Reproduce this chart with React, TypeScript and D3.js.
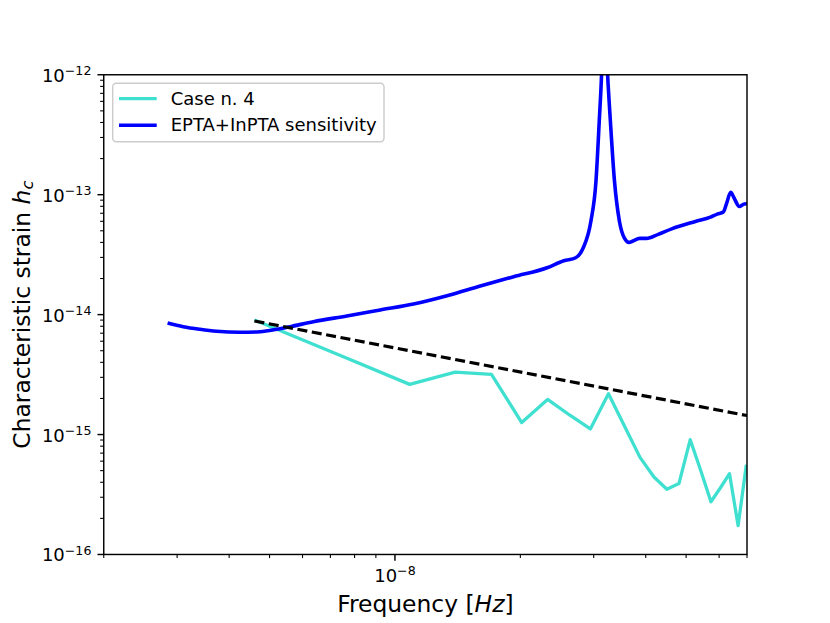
import React from "react";
import * as d3 from "d3";

// ---- data ----
const sensFreq = [
  2.846e-9, 3.103e-9, 3.404e-9, 3.733e-9, 4.246e-9, 4.746e-9, 5.203e-9, 5.601e-9,
  6.373e-9, 7.667e-9, 9.219e-9, 1.108e-8, 1.334e-8, 1.603e-8, 1.928e-8, 2.319e-8,
  2.543e-8, 2.716e-8, 2.83e-8, 2.953e-8, 3.038e-8, 3.094e-8, 3.133e-8, 3.177e-8,
  3.24e-8, 3.289e-8, 3.365e-8, 3.459e-8, 3.558e-8, 3.646e-8, 3.727e-8, 3.868e-8,
  4.016e-8, 4.285e-8, 4.617e-8, 5.263e-8, 5.72e-8, 5.939e-8, 6.14e-8, 6.257e-8,
  6.397e-8, 6.518e-8, 6.707e-8, 6.896e-8, 7.07e-8,
];
const sensStrain = [
  8.51e-15, 7.93e-15, 7.54e-15, 7.26e-15, 7.12e-15, 7.2e-15, 7.54e-15, 7.93e-15,
  8.73e-15, 9.74e-15, 1.093e-14, 1.226e-14, 1.438e-14, 1.732e-14, 2.071e-14, 2.461e-14,
  2.816e-14, 2.98e-14, 3.59e-14, 5.98e-14, 1.3e-13, 4.155e-13, 9.95e-13, 5e-12,
  9.95e-13, 4.155e-13, 1.3e-13, 5.98e-14, 4.32e-14, 4.0e-14, 4.11e-14, 4.32e-14,
  4.32e-14, 4.67e-14, 5.19e-14, 5.98e-14, 6.5e-14, 6.89e-14, 7.16e-14, 8.52e-14,
  1.048e-13, 9.38e-14, 7.98e-14, 8.36e-14, 8.41e-14,
];

const caseFreq = [
  4.6e-9, 7.75e-9, 1.085e-8, 1.395e-8, 1.705e-8, 2.015e-8, 2.325e-8, 2.635e-8,
  2.945e-8, 3.255e-8, 3.565e-8, 3.875e-8, 4.185e-8, 4.495e-8, 4.805e-8, 5.115e-8,
  5.425e-8, 5.735e-8, 6.045e-8, 6.355e-8, 6.665e-8, 6.975e-8,
];
const caseStrain = [
  9.02e-15, 4.27e-15, 2.62e-15, 3.32e-15, 3.18e-15, 1.258e-15, 1.963e-15, 1.442e-15,
  1.114e-15, 2.19e-15, 1.158e-15, 6.45e-16, 4.43e-16, 3.5e-16, 3.9e-16, 9.06e-16,
  4.97e-16, 2.75e-16, 3.6e-16, 4.72e-16, 1.74e-16, 5.6e-16,
];

const fitFreq = [4.6e-9, 7.0e-8];
const fitStrain = [8.85e-15, 1.44e-15];

const xDomain = [2e-9, 7e-8];
const yDomain = [1e-16, 1e-12];
const xMajorTicks = [1e-8];
const yMajorTicks = [1e-16, 1e-15, 1e-14, 1e-13, 1e-12];
const xTickLabels = ["\u22128"];
const yTickLabels = ["\u221216", "\u221215", "\u221214", "\u221213", "\u221212"];

const seriesNames = ["Case n. 4", "EPTA+InPTA sensitivity"];
const seriesColors = ["#40e0d0", "#0000ff"];

const W = 830;
const H = 623;
const M = { left: 103.75, right: 747, top: 74.76, bottom: 554.47 };
const FONT = "'DejaVu Sans', sans-serif";

function minorTicks(lo: number, hi: number) {
  const out: number[] = [];
  for (let e = Math.floor(Math.log10(lo)); e <= Math.ceil(Math.log10(hi)); e++) {
    for (let k = 2; k <= 9; k++) {
      const v = k * Math.pow(10, e);
      if (v >= lo * 0.9999 && v <= hi * 1.0001) out.push(v);
    }
  }
  return out;
}

export default function App() {
  const x = d3.scaleLog().domain(xDomain).range([M.left, M.right]);
  const y = d3.scaleLog().domain(yDomain).range([M.bottom, M.top]);

  const sensLine = d3
    .line<number>()
    .x((_, i) => x(sensFreq[i]))
    .y((d) => y(d))
    .curve(d3.curveMonotoneX)(sensStrain) as string;
  const caseLine = d3
    .line<number>()
    .x((_, i) => x(caseFreq[i]))
    .y((d) => y(d))(caseStrain) as string;
  const fitLine = d3
    .line<number>()
    .x((_, i) => x(fitFreq[i]))
    .y((d) => y(d))(fitStrain) as string;

  const xMinor = minorTicks(xDomain[0], xDomain[1]);
  const yMinor = minorTicks(yDomain[0], yDomain[1]);

  const majLen = 6.3;
  const minLen = 3.6;

  const legX = 112.7;
  const legY = 83.3;
  const legW = 271.3;
  const legH = 58.4;

  return (
    <svg
      width={W}
      height={H}
      style={{ position: "absolute", left: 0, top: 0, display: "block", background: "#fff" }}
      fontFamily={FONT}
    >
      <defs>
        <clipPath id="plotclip">
          <rect x={M.left} y={M.top} width={M.right - M.left} height={M.bottom - M.top} />
        </clipPath>
      </defs>
      <rect x={0} y={0} width={W} height={H} fill="#fff" />

      <g clipPath="url(#plotclip)" fill="none" strokeLinejoin="round" strokeLinecap="butt">
        <path d={caseLine} stroke={seriesColors[0]} strokeWidth={3.3} />
        <path d={sensLine} stroke={seriesColors[1]} strokeWidth={3.6} />
        <path d={fitLine} stroke="#000" strokeWidth={3.2} strokeDasharray="10,4.6" />
      </g>

      {/* ticks */}
      <g stroke="#000">
        {xMinor.map((v, i) => (
          <line key={"xm" + i} x1={x(v)} x2={x(v)} y1={M.bottom} y2={M.bottom + minLen} strokeWidth={1.08} />
        ))}
        {xMajorTicks.map((v, i) => (
          <line key={"xM" + i} x1={x(v)} x2={x(v)} y1={M.bottom} y2={M.bottom + majLen} strokeWidth={1.44} />
        ))}
        {yMinor.map((v, i) => (
          <line key={"ym" + i} x1={M.left - minLen} x2={M.left} y1={y(v)} y2={y(v)} strokeWidth={1.08} />
        ))}
        {yMajorTicks.map((v, i) => (
          <line key={"yM" + i} x1={M.left - majLen} x2={M.left} y1={y(v)} y2={y(v)} strokeWidth={1.44} />
        ))}
      </g>

      {/* tick labels */}
      {xMajorTicks.map((v, i) => (
        <text key={"xl" + i} x={x(v)} y={581.5} fontSize={18} textAnchor="middle" fill="#000">
          <tspan>10</tspan>
          <tspan fontSize={12.6} dy={-6.8}>{xTickLabels[i]}</tspan>
        </text>
      ))}
      {yMajorTicks.map((v, i) => (
        <text key={"yl" + i} x={91.4} y={y(v) + 7} fontSize={18} textAnchor="end" fill="#000">
          <tspan>10</tspan>
          <tspan fontSize={12.6} dy={-6.8}>{yTickLabels[i]}</tspan>
        </text>
      ))}

      {/* spines */}
      <rect
        x={M.left}
        y={M.top}
        width={M.right - M.left}
        height={M.bottom - M.top}
        fill="none"
        stroke="#000"
        strokeWidth={1.44}
      />

      {/* axis labels */}
      <text x={(M.left + M.right) / 2} y={611.7} fontSize={23.4} textAnchor="middle" fill="#000">
        <tspan>Frequency [</tspan>
        <tspan fontStyle="italic">Hz</tspan>
        <tspan>]</tspan>
      </text>
      <text
        transform={`translate(29.5, ${(M.top + M.bottom) / 2}) rotate(-90)`}
        fontSize={23.4}
        textAnchor="middle"
        fill="#000"
      >
        <tspan>Characteristic strain </tspan>
        <tspan fontStyle="italic">h</tspan>
        <tspan fontStyle="italic" fontSize={16.4} dy={3.5}>c</tspan>
      </text>

      {/* legend */}
      <rect
        x={legX}
        y={legY}
        width={legW}
        height={legH}
        rx={3.6}
        fill="#fff"
        fillOpacity={0.8}
        stroke="#cccccc"
        strokeWidth={1.44}
      />
      {seriesNames.map((name, i) => (
        <g key={"lg" + i}>
          <line
            x1={119}
            x2={156.7}
            y1={98.7 + i * 26.6}
            y2={98.7 + i * 26.6}
            stroke={seriesColors[i]}
            strokeWidth={i === 0 ? 3.3 : 3.6}
          />
          <text x={170.7} y={104.8 + i * 26.6} fontSize={18} fill="#000">
            {name}
          </text>
        </g>
      ))}
    </svg>
  );
}
